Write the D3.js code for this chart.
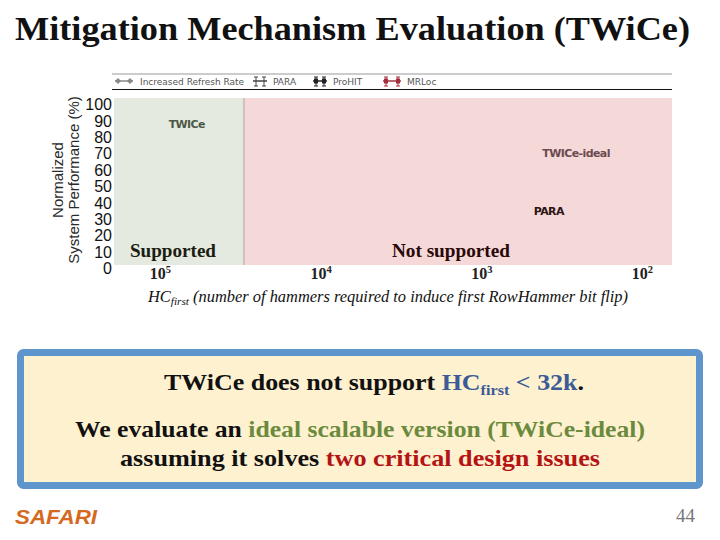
<!DOCTYPE html>
<html><head><meta charset="utf-8">
<script src="https://cdn.jsdelivr.net/npm/d3@7/dist/d3.min.js"></script>
<style>body{margin:0;background:#fff}svg{display:block}</style>
</head><body>
<script>
// ---- data ----
const yTicks = [0,10,20,30,40,50,60,70,80,90,100];
const xTicks = [1e5, 1e4, 1e3, 1e2];
const xTickExp = ["5","4","3","2"];
const xDomain = [193000, 65];
const yDomain = [0, 100];
const boundaryHC = 30000;
const regions = [
  {name:"Supported", from:193000, to:30000, fill:"#e4eae0", text:"#1c1c10"},
  {name:"Not supported", from:30000, to:65, fill:"#f5d8d8", text:"#2a0808"}
];
const legendNames = ["Increased Refresh Rate","PARA","ProHIT","MRLoc"];
const legendColors = ["#888","#444","#222","#a3303c"];
const mechLabels = [
  {name:"TWICe", hc:68000, perf:88, color:"#4c5848"},
  {name:"TWICe-ideal", hc:257, perf:70, color:"#6c4b50"},
  {name:"PARA", hc:380, perf:35, color:"#2a1414"}
];

const W=720,H=540;
const svg=d3.select("body").append("svg").attr("width",W).attr("height",H);
const serif="'Liberation Serif','DejaVu Serif',serif";
const sans="'Liberation Sans',Arial,sans-serif";

// title
svg.append("text").attr("x",15).attr("y",40).attr("font-family",serif).attr("font-weight","bold")
  .attr("font-size",33).attr("fill","#111").attr("textLength",675).attr("lengthAdjust","spacingAndGlyphs")
  .text("Mitigation Mechanism Evaluation (TWiCe)");

const x=d3.scaleLog().domain(xDomain).range([114,672]);
const y=d3.scaleLinear().domain(yDomain).range([268,104]);
const plotTop=98, plotBot=265;

// regions
svg.selectAll("rect.reg").data(regions).join("rect").attr("class","reg")
  .attr("x",d=>x(d.from)).attr("width",d=>x(d.to)-x(d.from))
  .attr("y",plotTop).attr("height",plotBot-plotTop).attr("fill",d=>d.fill);
svg.append("line").attr("x1",x(boundaryHC)).attr("x2",x(boundaryHC)).attr("y1",plotTop).attr("y2",plotBot)
  .attr("stroke","#d4c0bc").attr("stroke-width",2);

// region labels
svg.selectAll("text.reg").data(regions).join("text").attr("class","reg")
  .attr("x",(d,i)=> i===0 ? x(d.from)+16 : (x(d.from)+x(d.to))/2-7)
  .attr("text-anchor",(d,i)=> i===0 ? "start" : "middle")
  .attr("y",257).attr("font-family",serif).attr("font-weight","bold").attr("font-size",19)
  .attr("textLength",(d,i)=> i===0 ? 86 : 118).attr("lengthAdjust","spacingAndGlyphs")
  .attr("fill",d=>d.text).text(d=>d.name);

// mechanism labels
svg.selectAll("text.mech").data(mechLabels).join("text").attr("class","mech")
  .attr("x",d=>x(d.hc)).attr("y",d=>y(d.perf)+4).attr("text-anchor","middle")
  .attr("font-family","'DejaVu Sans',sans-serif").attr("font-weight","bold").attr("font-size",11)
  .attr("letter-spacing",-0.6).attr("fill",d=>d.color).text(d=>d.name);

// y axis
const yAxis=svg.append("g").attr("transform","translate(112,0)")
  .call(d3.axisLeft(y).tickValues(yTicks).tickSize(0).tickPadding(0));
yAxis.select(".domain").remove();
yAxis.selectAll("text").attr("font-family",sans).attr("font-size",16).attr("fill","#111").attr("dy","0.35em");

svg.append("text").attr("transform","translate(63,180) rotate(-90)").attr("text-anchor","middle")
  .attr("font-family",sans).attr("font-size",15).attr("fill","#2a2a2a").text("Normalized");
svg.append("text").attr("transform","translate(79,180) rotate(-90)").attr("text-anchor","middle")
  .attr("font-family",sans).attr("font-size",15).attr("fill","#2a2a2a").text("System Performance (%)");

// x axis
const xAxis=svg.append("g").attr("transform","translate(0,279)")
  .call(d3.axisBottom(x).tickValues(xTicks).tickSize(0).tickFormat(()=>""));
xAxis.select(".domain").remove();
xAxis.selectAll(".tick text").remove();
xAxis.selectAll(".tick").append("text").attr("text-anchor","middle").attr("y",0)
  .attr("font-family",serif).attr("font-weight","bold").attr("font-size",16).attr("fill","#222")
  .each(function(d,i){
    const t=d3.select(this);
    t.append("tspan").text("10");
    t.append("tspan").attr("font-size",10.5).attr("dy",-6).text(xTickExp[i]);
  });

const xt=svg.append("text").attr("x",148).attr("y",302)
  .attr("font-family",serif).attr("font-style","italic").attr("font-size",16).attr("fill","#111")
  .attr("textLength",480).attr("lengthAdjust","spacingAndGlyphs");
xt.append("tspan").text("HC");
xt.append("tspan").attr("font-size",11).attr("dy",3).text("first");
xt.append("tspan").attr("dy",-3).text(" (number of hammers required to induce first RowHammer bit flip)");

// legend
svg.append("line").attr("x1",112).attr("x2",672).attr("y1",74).attr("y2",74).attr("stroke","#999").attr("stroke-width",1);
svg.append("line").attr("x1",112).attr("x2",672).attr("y1",89.5).attr("y2",89.5).attr("stroke","#111").attr("stroke-width",1.2);
const legX=[115,253,313,383];
const legW=[18,14,14,18];
const legT=[25,20,20,24];
legendNames.forEach((n,i)=>{
  const g=svg.append("g").attr("transform",`translate(${legX[i]},81)`);
  const c=legendColors[i];
  const w=legW[i];
  g.append("line").attr("x1",0).attr("x2",w).attr("y1",0).attr("y2",0).attr("stroke",c).attr("stroke-width",1.5);
  [3,w-3].forEach(px=>{
    if(i===0){
      g.append("path").attr("d",`M${px-3},0L${px},-3L${px+3},0L${px},3Z`).attr("fill",c);
    } else {
      g.append("line").attr("x1",px).attr("x2",px).attr("y1",-4).attr("y2",5).attr("stroke",c).attr("stroke-width",1);
      g.append("line").attr("x1",px-2).attr("x2",px+2).attr("y1",-4).attr("y2",-4).attr("stroke",c);
      g.append("line").attr("x1",px-2).attr("x2",px+2).attr("y1",5).attr("y2",5).attr("stroke",c);
      if(i>=2) g.append("rect").attr("x",px-2).attr("y",-2.5).attr("width",4).attr("height",5).attr("fill",c);
    }
  });
  g.append("text").attr("x",legT[i]).attr("y",3.5).attr("font-family","'DejaVu Sans',sans-serif").attr("font-size",9)
    .attr("fill","#555").text(n);
});

// callout box
svg.append("rect").attr("x",20.5).attr("y",352.5).attr("width",679).attr("height",133).attr("rx",3)
  .attr("fill","#fdf1cf").attr("stroke","#5d95cc").attr("stroke-width",7);

function line(cx,yy,parts,len){
  const t=svg.append("text").attr("x",cx).attr("y",yy).attr("text-anchor","middle")
    .attr("font-family",serif).attr("font-weight","bold").attr("font-size",24);
  if(len) t.attr("textLength",len).attr("lengthAdjust","spacingAndGlyphs");
  parts.forEach(p=>{
    const s=t.append("tspan").attr("fill",p.c).text(p.t);
    if(p.fs) s.attr("font-size",p.fs);
    if(p.dy) s.attr("dy",p.dy);
  });
}
line(374,390,[{t:"TWiCe does not support ",c:"#111"},{t:"HC",c:"#3b5a96"},{t:"first",c:"#3b5a96",fs:15,dy:5},{t:" < 32k",c:"#3b5a96",dy:-5},{t:".",c:"#111"}],420);
line(360,437,[{t:"We evaluate an ",c:"#111"},{t:"ideal scalable version (TWiCe-ideal)",c:"#6b8a3c"}],570);
line(360,466,[{t:"assuming it solves ",c:"#111"},{t:"two critical design issues",c:"#b41414"}],480);

// footer
svg.append("text").attr("x",15).attr("y",524).attr("font-family",sans).attr("font-weight","bold").attr("font-style","italic")
  .attr("font-size",20).attr("fill","#d5691f").attr("textLength",82).attr("lengthAdjust","spacingAndGlyphs").text("SAFARI");
svg.append("text").attr("x",695).attr("y",522).attr("text-anchor","end").attr("font-family",serif)
  .attr("font-size",19).attr("fill","#777").text("44");
</script>
</body></html>
